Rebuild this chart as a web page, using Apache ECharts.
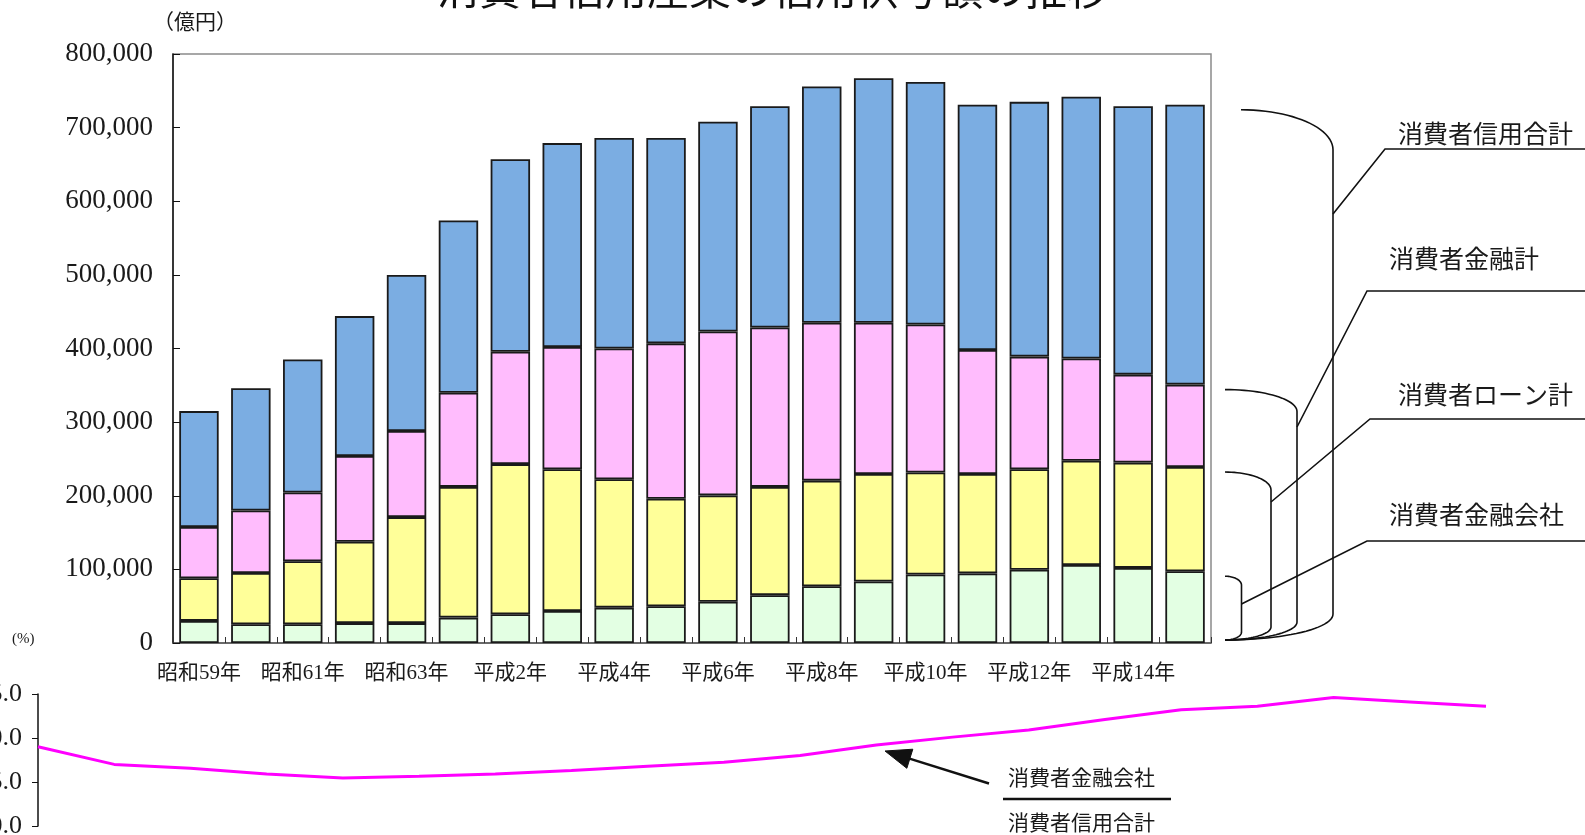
<!DOCTYPE html>
<html>
<head>
<meta charset="utf-8">
<script src="https://cdn.jsdelivr.net/npm/echarts@6/dist/echarts.min.js"></script>
<style>
html,body{margin:0;padding:0;background:#fff;overflow:hidden}
#c{width:1585px;height:835px}
</style>
</head>
<body>
<div id="c"></div>
<script>
// 年次（暦年）
const years = ['昭和59年','昭和60年','昭和61年','昭和62年','昭和63年','平成元年','平成2年','平成3年','平成4年','平成5年',
               '平成6年','平成7年','平成8年','平成9年','平成10年','平成11年','平成12年','平成13年','平成14年','平成15年'];

// 信用供与額（億円）— 累計ベース
const creditTotal = [315000,346000,385000,444000,500000,574000,657000,679000,686000,686000,
                     708000,729000,756000,767000,762000,731000,735000,742000,729000,731000]; // 消費者信用合計
const financeTotal = [157500,180000,204500,254000,288000,340000,395500,402000,400000,407000,
                      423000,428500,435000,435000,432500,398000,389000,386500,364500,351000]; // 消費者金融計
const loanTotal = [88000,95000,111000,137500,171000,212000,243000,236000,222500,196000,
                   200500,212000,220500,229500,231500,229500,236000,247500,245000,239000];   // 消費者ローン計
const companyTotal = [30000,25500,25500,27000,27000,34500,39000,43500,48000,50000,
                      56000,65000,77000,83500,93000,94500,99500,106000,102000,97500];        // 消費者金融会社

// 消費者金融会社／消費者信用合計（%）
const companyShare = [9.0,7.0,6.55,5.9,5.45,5.65,5.9,6.3,6.8,7.25,
                      8.0,9.2,10.1,10.9,12.1,13.2,13.6,14.6,14.1,13.6];

const yTicks = [0,100000,200000,300000,400000,500000,600000,700000,800000];
const shareTicks = [0,5,10,15];

// 積み上げ用の各区間
const segCompany = companyTotal.slice();
const segLoanOther = loanTotal.map((v,i)=>v-companyTotal[i]);
const segFinanceOther = financeTotal.map((v,i)=>v-loanTotal[i]);
const segSales = creditTotal.map((v,i)=>v-financeTotal[i]);

const SERIF = '"Liberation Serif", "Noto Sans CJK JP", serif';
const JP = '"Noto Sans CJK JP", sans-serif';
const BORDER = '#1a1a1a';

function seg(name, data, color){
  return {
    name, type:'bar', stack:'total', data,
    xAxisIndex:0, yAxisIndex:0,
    barWidth:'76%',
    itemStyle:{color, borderColor:BORDER, borderWidth:1.8},
    emphasis:{disabled:true}
  };
}

const chart = echarts.init(document.getElementById('c'), null, {renderer:'canvas'});

chart.setOption({
  animation:false,
  backgroundColor:'#fff',
  grid:[
    {left:173, right:374, top:54, bottom:192, outerBoundsMode:'none', containLabel:false,
     show:true, borderColor:'#8a8a8a', borderWidth:1.5, backgroundColor:'transparent'},
    {left:38, right:99, top:694, bottom:9, outerBoundsMode:'none', containLabel:false}
  ],
  xAxis:[
    {
      type:'category', gridIndex:0, data:years,
      axisLine:{lineStyle:{color:'#555', width:1.5}},
      axisTick:{show:true, inside:true, length:6, interval:0, lineStyle:{color:'#333'}},
      axisLabel:{interval:1, margin:20, fontSize:21, fontFamily:SERIF, color:'#1a1a1a'},
      splitLine:{show:false}
    },
    {
      type:'category', gridIndex:1, data:years, boundaryGap:false, show:false
    }
  ],
  yAxis:[
    {
      type:'value', gridIndex:0, min:yTicks[0], max:yTicks[yTicks.length-1], interval:yTicks[1]-yTicks[0],
      axisLine:{show:true, lineStyle:{color:'#111', width:1.5}},
      axisTick:{show:true, inside:true, length:7, lineStyle:{color:'#111'}},
      axisLabel:{margin:20, fontSize:27, fontFamily:SERIF, color:'#1a1a1a',
                 formatter:v=>v.toLocaleString('en-US')},
      splitLine:{show:false}
    },
    {
      type:'value', gridIndex:1, min:shareTicks[0], max:shareTicks[shareTicks.length-1], interval:shareTicks[1]-shareTicks[0],
      axisLine:{show:true, lineStyle:{color:'#111', width:1.5}},
      axisTick:{show:true, inside:false, length:6, lineStyle:{color:'#111'}},
      axisLabel:{margin:16, fontSize:26, fontFamily:SERIF, color:'#1a1a1a', formatter:v=>v.toFixed(1)},
      splitLine:{show:false}
    }
  ],
  series:[
    seg('消費者金融会社', segCompany, '#e3ffe3'),
    seg('その他の消費者ローン', segLoanOther, '#ffff99'),
    seg('消費者ローン以外の消費者金融', segFinanceOther, '#ffbcfd'),
    seg('販売信用', segSales, '#7badE2'),
    {
      name:'消費者金融会社／消費者信用合計', type:'line', xAxisIndex:1, yAxisIndex:1,
      data:companyShare, symbol:'none', smooth:false,
      lineStyle:{color:'#ff00ff', width:3},
      emphasis:{disabled:true}
    }
  ]
});

// 3次ベジェ曲線を折れ線の点列にする
function cubicPts(p0, p1, p2, p3, n){
  const pts = [];
  for(let i=0;i<=n;i++){
    const t=i/n, u=1-t;
    pts.push([
      u*u*u*p0[0] + 3*u*u*t*p1[0] + 3*u*t*t*p2[0] + t*t*t*p3[0],
      u*u*u*p0[1] + 3*u*u*t*p1[1] + 3*u*t*t*p2[1] + t*t*t*p3[1]
    ]);
  }
  return pts;
}

// 右側の括弧・引出し線・見出し、および下段の比率注記
function buildAnnotations(){
  const last = years.length - 1;
  const yOf = v => chart.convertToPixel({gridIndex:0}, [last, v])[1];
  const yBase = yOf(0) - 3;
  const xJoin = 1225;
  const k = 0.5523;

  const brackets = [
    {val:creditTotal[last],  x0:1241, xv:1333, ryT:40, ryB:26, label:'消費者信用合計', lx:1398, ly:133, elbow:[1385,149], from:214},
    {val:financeTotal[last], x0:1225, xv:1297, ryT:22, ryB:18, label:'消費者金融計',   lx:1389, ly:258, elbow:[1367,291], from:427},
    {val:loanTotal[last],    x0:1225, xv:1271, ryT:18, ryB:13, label:'消費者ローン計', lx:1398, ly:394, elbow:[1370,419], from:502},
    {val:companyTotal[last], x0:1225, xv:1241.5, ryT:9, ryB:8, label:'消費者金融会社', lx:1389, ly:514, elbow:[1367,541], from:604}
  ];

  const els = [];
  brackets.forEach(b=>{
    const yt = yOf(b.val) + 5;
    const rxT = b.xv - b.x0, rxB = b.xv - xJoin;
    const top = cubicPts([b.x0, yt], [b.x0 + k*rxT, yt], [b.xv, yt + b.ryT - k*b.ryT], [b.xv, yt + b.ryT], 24);
    const bot = cubicPts([b.xv, yBase - b.ryB], [b.xv, yBase - b.ryB + k*b.ryB], [xJoin + k*rxB, yBase], [xJoin, yBase], 24);
    els.push({type:'polyline', silent:true, shape:{points:top.concat(bot)},
              style:{fill:null, stroke:'#111', lineWidth:1.6}});
    els.push({type:'polyline', silent:true,
              shape:{points:[[b.xv, b.from], b.elbow, [1585, b.elbow[1]]]},
              style:{fill:null, stroke:'#111', lineWidth:1.6}});
    els.push({type:'text', silent:true,
              style:{text:b.label, x:b.lx, y:b.ly, font:'25px ' + JP, fill:'#1a1a1a',
                     align:'left', verticalAlign:'middle', textAlign:'left', textVerticalAlign:'middle'}});
  });

  // 表題（上端で切れている）
  els.push({type:'text', silent:true,
            style:{text:'消費者信用産業の信用供与額の推移', x:773, y:-11, font:'42px ' + JP, fill:'#111',
                   align:'center', verticalAlign:'middle', textAlign:'center', textVerticalAlign:'middle'}});
  // 単位
  els.push({type:'text', silent:true,
            style:{text:'（億円）', x:153, y:23, font:'21px ' + SERIF, fill:'#1a1a1a',
                   align:'left', verticalAlign:'middle', textAlign:'left', textVerticalAlign:'middle'}});
  els.push({type:'text', silent:true,
            style:{text:'(%)', x:12, y:639, font:'15px ' + SERIF, fill:'#1a1a1a',
                   align:'left', verticalAlign:'middle', textAlign:'left', textVerticalAlign:'middle'}});

  // 比率の注記（分数表記）と矢印
  els.push({type:'text', silent:true,
            style:{text:'消費者金融会社', x:1008, y:777, font:'21px ' + JP, fill:'#1a1a1a',
                   align:'left', verticalAlign:'middle', textAlign:'left', textVerticalAlign:'middle'}});
  els.push({type:'line', silent:true, shape:{x1:1003, y1:799, x2:1171, y2:799},
            style:{stroke:'#111', lineWidth:2.5}});
  els.push({type:'text', silent:true,
            style:{text:'消費者信用合計', x:1008, y:822, font:'21px ' + JP, fill:'#1a1a1a',
                   align:'left', verticalAlign:'middle', textAlign:'left', textVerticalAlign:'middle'}});

  const tail = [989, 783.5], tip = [885, 751];
  const dx = tip[0]-tail[0], dy = tip[1]-tail[1];
  const len = Math.hypot(dx, dy), ux = dx/len, uy = dy/len;
  const headL = 26, headW = 10;
  const bx = tip[0] - ux*headL, by = tip[1] - uy*headL;
  els.push({type:'line', silent:true, shape:{x1:tail[0], y1:tail[1], x2:bx + ux*2, y2:by + uy*2},
            style:{stroke:'#111', lineWidth:2.5}});
  els.push({type:'polygon', silent:true,
            shape:{points:[tip, [bx - uy*headW, by + ux*headW], [bx + uy*headW, by - ux*headW]]},
            style:{fill:'#111', stroke:'#111', lineWidth:1}});

  chart.setOption({graphic:{elements:els}});
}
buildAnnotations();
</script>
</body>
</html>
